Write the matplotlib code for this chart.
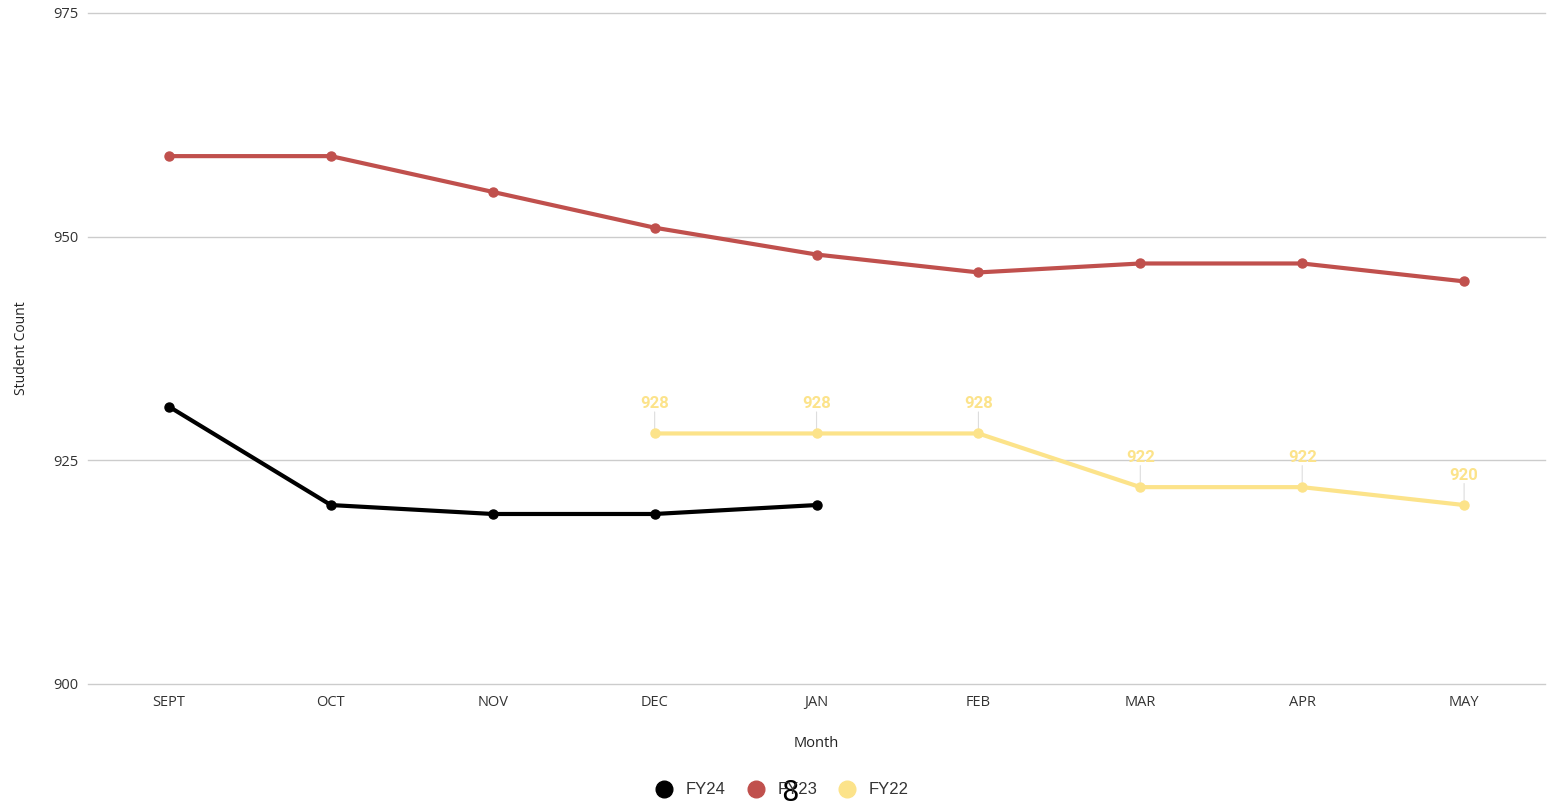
import matplotlib
matplotlib.use("Agg")
import matplotlib.pyplot as plt
from matplotlib.lines import Line2D

months = ["SEPT", "OCT", "NOV", "DEC", "JAN", "FEB", "MAR", "APR", "MAY"]
fy24 = [931, 920, 919, 919, 920]
fy23 = [959, 959, 955, 951, 948, 946, 947, 947, 945]
fy22_months = ["DEC", "JAN", "FEB", "MAR", "APR", "MAY"]
fy22 = [928, 928, 928, 922, 922, 920]
yticks = [900, 925, 950, 975]

c24 = "#000000"
c23 = "#C0504D"
c22 = "#FCE38A"

fig = plt.figure(figsize=(15.5, 8.06), dpi=100)
ax = fig.add_axes([0.0568, 0.1514, 0.94, 0.8325])

xi = {m: i for i, m in enumerate(months)}
lw = 3.0
ms = 6.5
ax.plot([xi[m] for m in months[:len(fy24)]], fy24, color=c24, lw=lw, marker="o", ms=ms, zorder=3, clip_on=False)
ax.plot([xi[m] for m in months], fy23, color=c23, lw=lw, marker="o", ms=ms, zorder=3, clip_on=False)
x22 = [xi[m] for m in fy22_months]
ax.plot(x22, fy22, color=c22, lw=lw, marker="o", ms=ms, zorder=3, clip_on=False)

for x, v in zip(x22, fy22):
    ax.annotate("", xy=(x, v), xytext=(0, 15.5), textcoords="offset points",
                arrowprops=dict(arrowstyle="-", color="#dddddd", lw=0.8, shrinkA=0, shrinkB=3.5), zorder=2)
    ax.annotate(str(v), xy=(x, v), xytext=(0, 21.6), textcoords="offset points",
                ha="center", va="center", color=c22, fontsize=12, fontweight="bold",
                family="Roboto", zorder=4)

ax.set_xlim(-0.5, len(months) - 0.5)
ax.set_ylim(900, 975)
ax.set_xticks(range(len(months)))
ax.set_xticklabels(months)
ax.set_yticks(yticks)
ax.grid(axis="y", color="#cccccc", lw=1, clip_on=False)
ax.set_axisbelow(True)
for s in ax.spines.values():
    s.set_visible(False)
ax.tick_params(axis="both", length=0, labelsize=10.5, colors="#333333", labelfontfamily="Open Sans")
ax.tick_params(axis="x", pad=8)
ax.tick_params(axis="y", pad=7)
ax.set_xlabel("Month", fontsize=10.5, family="Open Sans", color="#222222", labelpad=19)
ax.set_ylabel("Student Count", fontsize=10, family="Open Sans", color="#222222", labelpad=17)

handles = [Line2D([], [], ls="none", marker="o", ms=12, color=c, label=l)
           for c, l in [(c24, "FY24"), (c23, "FY23"), (c22, "FY22")]]
fig.legend(handles=handles, loc="center", bbox_to_anchor=(0.502, 0.02), ncol=3, frameon=False,
           prop={"family": "Liberation Sans", "size": 12}, handletextpad=0.3, columnspacing=0.8,
           labelcolor="#333333")

fig.text(790 / 1550, 1 - 793 / 806, "8", fontsize=20, ha="center", va="center", color="black")

fig.savefig("out.png", dpi=100, facecolor="white")
